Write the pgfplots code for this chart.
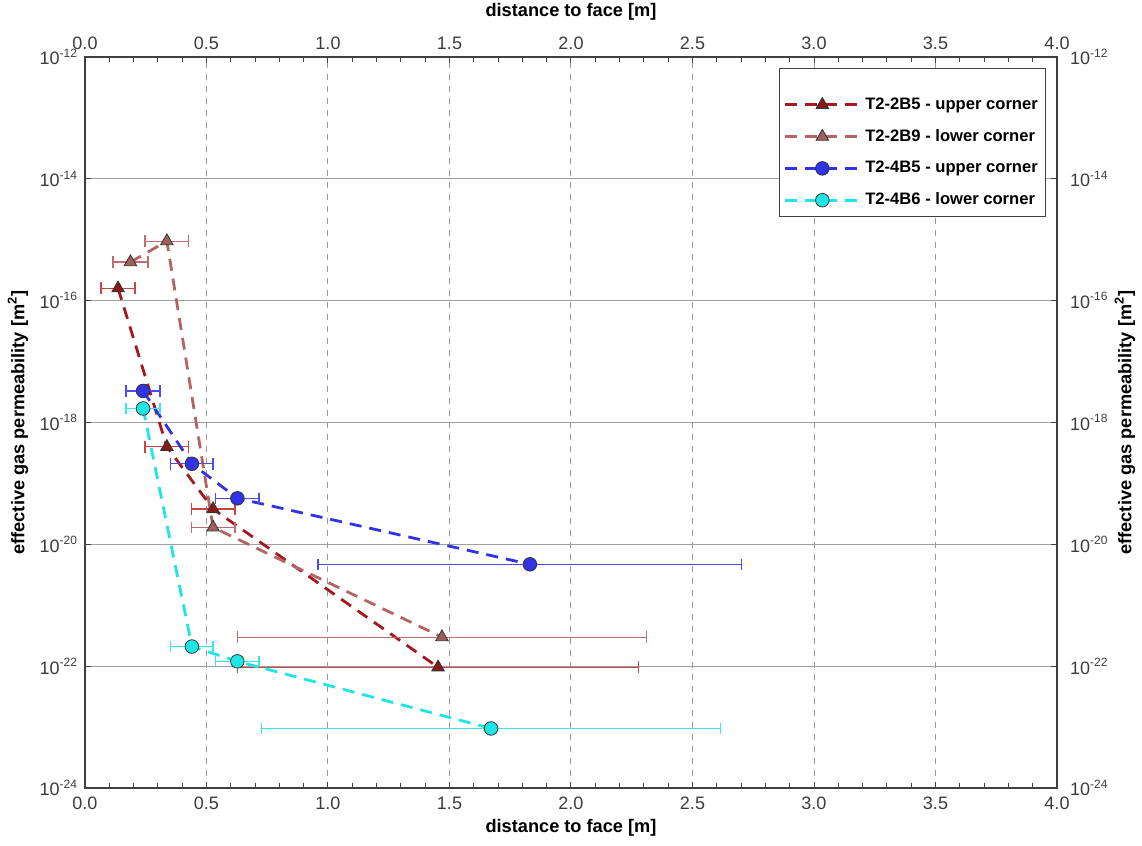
\documentclass[border=0pt]{standalone}
\usepackage{fontspec}
\setmainfont{Liberation Sans}
\usepackage{pgfplots}
\pgfplotsset{compat=1.18}
\definecolor{dred}{RGB}{165,25,30}
\definecolor{dredm}{RGB}{135,25,25}
\definecolor{drederr}{RGB}{200,70,70}
\definecolor{rosy}{RGB}{180,100,100}
\definecolor{rosym}{RGB}{160,95,95}
\definecolor{rosyerr}{RGB}{190,110,110}
\definecolor{blu}{RGB}{50,50,230}
\definecolor{bluerr}{RGB}{75,75,240}
\definecolor{cya}{RGB}{30,230,230}
\definecolor{cyaerr}{RGB}{60,230,230}
\definecolor{tickgray}{RGB}{60,60,60}

\pgfplotsset{
  legend image code/.code={
    \draw[mark repeat=2, mark phase=2, #1] plot coordinates {(0cm,0cm) (0.66cm,0cm) (1.32cm,0cm)};},
}

\begin{document}
\begin{tikzpicture}
\useasboundingbox (-42.5pt,-29pt) rectangle (528.5pt,394pt);
\begin{axis}[
    scale only axis,
    width=486pt, height=365.5pt,
    at={(0,0)}, anchor=south west,
    xmin=0, xmax=4, ymin=1e-24, ymax=1e-12,
    ymode=log, log basis y=10,
    xtick={0,0.5,...,4},
    ytick={1e-24,1e-22,1e-20,1e-18,1e-16,1e-14,1e-12},
    yticklabel={\pgfmathtruncatemacro\yexp{round(\tick)}10\textsuperscript{\yexp}},
    xticklabel style={/pgf/number format/fixed, /pgf/number format/fixed zerofill,
      /pgf/number format/precision=1, /pgf/number format/assume math mode=true, yshift=-1pt},
    tick label style={font=\fontsize{9}{10}\selectfont, text=tickgray},
    axis line style={draw=black!75, line width=0.8pt},
    tick align=inside,
    minor x tick num=4,
    major tick length=3pt, minor tick length=2.5pt,
    tick style={black!75, line width=0.5pt},
    grid=major,
    x grid style={dashed, gray!80, line width=0.5pt},
    y grid style={gray!75, line width=0.5pt},
    xlabel={distance to face [m]},
    ylabel={effective gas permeability [m\textsuperscript{2}]},
    every axis x label/.style={at={(rel axis cs:0.5,0)}, anchor=center, yshift=-20pt,
      font=\fontsize{9.1}{10}\selectfont\bfseries},
    every axis y label/.style={at={(rel axis cs:0,0.5)}, anchor=center, xshift=-33.5pt, rotate=90,
      font=\fontsize{9.1}{10}\selectfont\bfseries},
    legend style={at={(rel axis cs:0.989,0.985)}, anchor=north east,
      draw=black!75, line width=0.5pt,
      font=\fontsize{8.3}{10}\selectfont\bfseries,
      row sep=4.5pt, inner xsep=2pt, inner ysep=2.5pt,
      cells={anchor=west}},
  ]
\addlegendimage{empty legend}
\addlegendentry{}
\addplot[dred, line width=1.4pt, dash pattern=on 6pt off 4pt,
  mark=triangle*, mark size=3.6pt, mark options={solid, fill=dredm, draw=black!80, line width=0.4pt},
  error bars/.cd, x dir=both, x explicit,
  error bar style={solid, line width=0.6pt, drederr},
  error mark options={solid, line width=0.6pt, mark size=2.9pt, rotate=90, drederr}]
  coordinates {
  (0.136,1.6e-16) +- (0.070,0)
  (0.337,4.0e-19) +- (0.090,0)
  (0.527,3.8e-20) +- (0.090,0)
  (1.453,9.6e-23) +- (0.826,0)
};
\addlegendentry{T2-2B5 - upper corner}
\addplot[rosy, line width=1.4pt, dash pattern=on 6pt off 4pt,
  mark=triangle*, mark size=3.6pt, mark options={solid, fill=rosym, draw=black!80, line width=0.4pt},
  error bars/.cd, x dir=both, x explicit,
  error bar style={solid, line width=0.6pt, rosyerr},
  error mark options={solid, line width=0.6pt, mark size=2.9pt, rotate=90, rosyerr}]
  coordinates {
  (0.187,4.3e-16) +- (0.072,0)
  (0.337,9.5e-16) +- (0.090,0)
  (0.527,1.9e-20) +- (0.090,0)
  (1.469,3.0e-22) +- (0.843,0)
};
\addlegendentry{T2-2B9 - lower corner}
\addplot[blu, line width=1.4pt, dash pattern=on 6pt off 4pt,
  mark=*, mark size=3.4pt, mark options={solid, fill=blu, draw=black!80, line width=0.4pt},
  error bars/.cd, x dir=both, x explicit,
  error bar style={solid, line width=0.6pt, bluerr},
  error mark options={solid, line width=0.6pt, mark size=2.9pt, rotate=90, bluerr}]
  coordinates {
  (0.239,3.3e-18) +- (0.070,0)
  (0.440,2.1e-19) +- (0.087,0)
  (0.627,5.7e-20) +- (0.089,0)
  (1.831,4.7e-21) +- (0.872,0)
};
\addlegendentry{T2-4B5 - upper corner}
\addplot[cya, line width=1.4pt, dash pattern=on 6pt off 4pt,
  mark=*, mark size=3.4pt, mark options={solid, fill=cya, draw=black!80, line width=0.4pt},
  error bars/.cd, x dir=both, x explicit,
  error bar style={solid, line width=0.6pt, cyaerr},
  error mark options={solid, line width=0.6pt, mark size=2.9pt, rotate=90, cyaerr}]
  coordinates {
  (0.239,1.7e-18) +- (0.070,0)
  (0.440,2.1e-22) +- (0.087,0)
  (0.627,1.2e-22) +- (0.089,0)
  (1.671,9.5e-24) +- (0.945,0)
};
\addlegendentry{T2-4B6 - lower corner}
\end{axis}
\begin{axis}[
    scale only axis,
    width=486pt, height=365.5pt,
    at={(0,0)}, anchor=south west,
    xmin=0, xmax=4, ymin=1e-24, ymax=1e-12,
    ymode=log, log basis y=10,
    xtick={0,0.5,...,4},
    ytick={1e-24,1e-22,1e-20,1e-18,1e-16,1e-14,1e-12},
    yticklabel={\pgfmathtruncatemacro\yexp{round(\tick)}10\textsuperscript{\yexp}},
    xticklabel style={/pgf/number format/fixed, /pgf/number format/fixed zerofill,
      /pgf/number format/precision=1, /pgf/number format/assume math mode=true},
    yticklabel style={xshift=3pt},
    tick label style={font=\fontsize{9}{10}\selectfont, text=tickgray},
    axis line style={draw=none},
    tick style={draw=none},
    xticklabel pos=right, yticklabel pos=right,
    xlabel={distance to face [m]},
    ylabel={effective gas permeability [m\textsuperscript{2}]},
    every axis x label/.style={at={(rel axis cs:0.5,1)}, anchor=center, yshift=22.5pt,
      font=\fontsize{9.1}{10}\selectfont\bfseries},
    every axis y label/.style={at={(rel axis cs:1,0.5)}, anchor=center, xshift=34pt, rotate=90,
      font=\fontsize{9.1}{10}\selectfont\bfseries},
  ]
\addplot[draw=none] coordinates {(1,1e-18) (2,1e-16)};
\end{axis}
\end{tikzpicture}
\end{document}
